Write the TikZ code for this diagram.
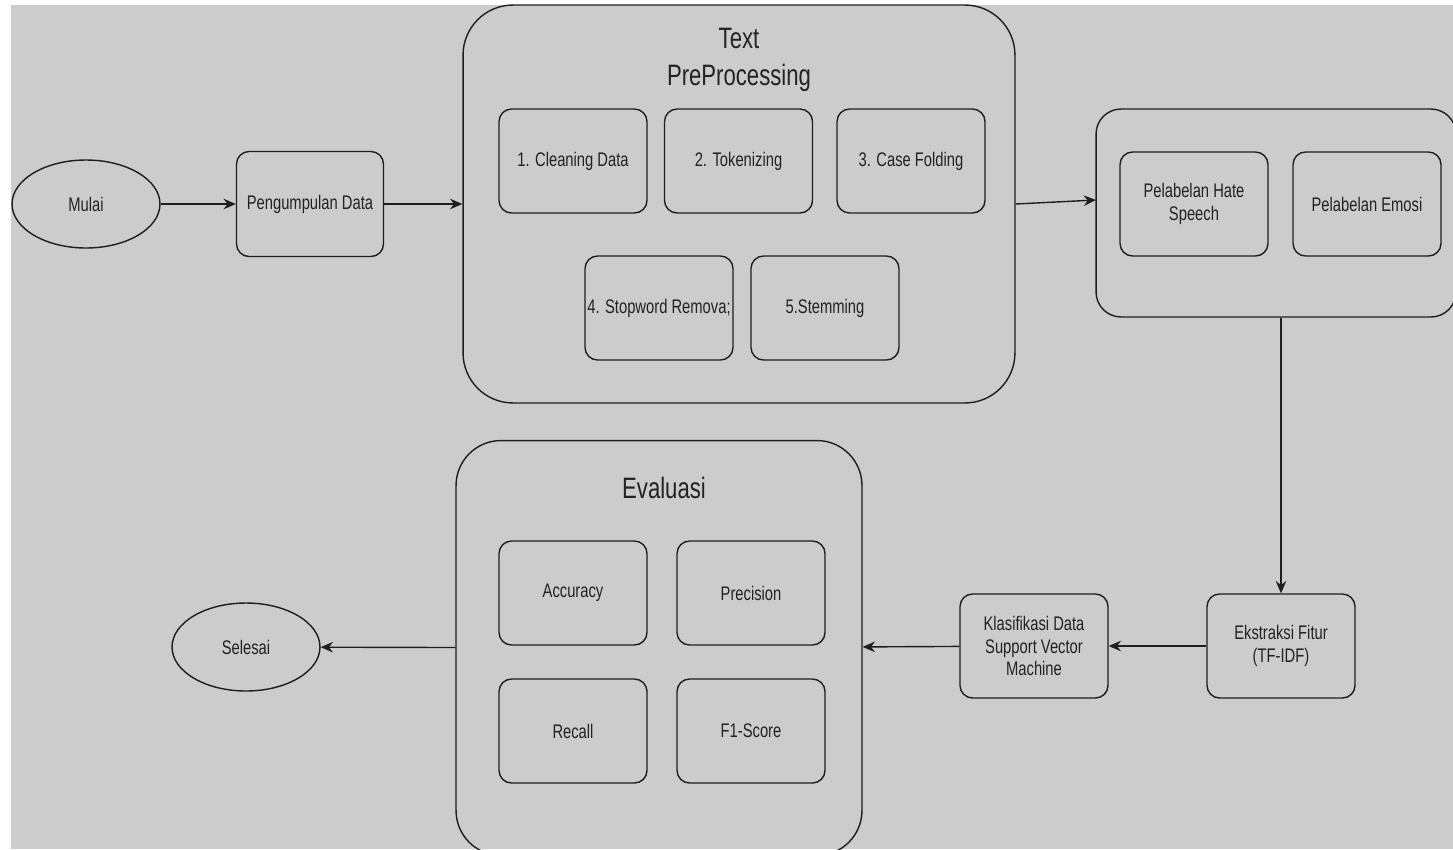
\documentclass[tikz,border=0pt]{standalone}
\usepackage{fontspec}
\setmainfont{Liberation Sans}[FakeStretch=0.75]
\usepackage{xcolor}
\usepackage{tikz}
\usetikzlibrary{arrows.meta,shapes.geometric}
\definecolor{bgGray}{HTML}{CCCCCC}
\definecolor{lineDark}{HTML}{1E1E1E}
\definecolor{txtDark}{HTML}{222222}

\begin{document}
\begin{tikzpicture}[x=0.02cm,y=-0.02cm,
    every node/.style={text=txtDark,font=\fontsize{11.2}{13}\selectfont,align=center},
    stepbox/.style={draw=lineDark,line width=0.8pt,rounded corners=0.25cm,minimum width=2.96cm,minimum height=2.08cm,inner sep=1pt},
    groupbox/.style={draw=lineDark,line width=0.8pt,inner sep=0pt},
    terminal/.style={ellipse,draw=lineDark,line width=0.8pt,minimum width=2.96cm,minimum height=1.76cm,inner sep=0pt},
    title/.style={font=\fontsize{16.8}{21.5}\selectfont},
    arr/.style={draw=lineDark,line width=0.8pt,-{Stealth[length=7pt,width=6pt]}}]
  \useasboundingbox (0,0) rectangle (1453,849);
  \clip (0,0) rectangle (1453,849);
  \fill[white] (0,0) rectangle (1453,849);
  \fill[bgGray] (11,5) rectangle (1453,849);
  % start and collection
  \node[terminal] (mulai) at (86,204) {Mulai};
  \node[stepbox,minimum width=2.94cm,minimum height=2.1cm] (pengumpulan) at (310,204) {Pengumpulan Data};
  % text preprocessing group
  \node[groupbox,rounded corners=1cm,minimum width=11.04cm,minimum height=7.96cm] (prep) at (739,204) {};
  \node[title] (prepTitle) at (739,60) {Text\\PreProcessing};
  \foreach \name/\x/\y/\txt in {clean/573/161/{1. Cleaning Data},token/738.5/161/{2. Tokenizing},casefold/911/161/{3. Case Folding},stopword/659/308/{4. Stopword Remova;},stem/825/308/{5.Stemming}}{
    \node[stepbox] (\name) at (\x,\y) {\txt};
  }
  % labelling group
  \node[groupbox,rounded corners=0.5cm,minimum width=7.2cm,minimum height=4.16cm] (label) at (1276,213) {};
  \node[stepbox] (hate) at (1194,204) {Pelabelan Hate\\Speech};
  \node[stepbox] (emosi) at (1367,204) {Pelabelan Emosi};
  \coordinate (labelIn) at (1096,200);
  % feature extraction and classification
  \node[stepbox] (ekstraksi) at (1281,646) {Ekstraksi Fitur\\(TF-IDF)};
  \node[stepbox] (klasifikasi) at (1034,646) {Klasifikasi Data\\Support Vector\\Machine};
  % evaluation group
  \node[groupbox,rounded corners=0.9cm,minimum width=8.12cm,minimum height=8.3cm] (eval) at (659,648) {};
  \node[title] (evalTitle) at (664,488) {Evaluasi};
  \foreach \name/\x/\y/\txt in {accuracy/573/593/Accuracy,precision/751/593/Precision,recall/573/731/Recall,fscore/751/731/F1-Score}{
    \node[stepbox] (\name) at (\x,\y) {\txt};
  }
  \node[terminal] (selesai) at (246,647) {Selesai};
  % connectors
  \draw[arr] (mulai) -- (pengumpulan);
  \draw[arr] (pengumpulan) -- (prep);
  \draw[arr] (prep.east) -- (labelIn);
  \draw[arr] (label.south -| ekstraksi) -- (ekstraksi.north);
  \draw[arr] (ekstraksi) -- (klasifikasi);
  \draw[arr] (klasifikasi) -- (eval);
  \draw[arr] (eval) -- (selesai);
\end{tikzpicture}
\end{document}
